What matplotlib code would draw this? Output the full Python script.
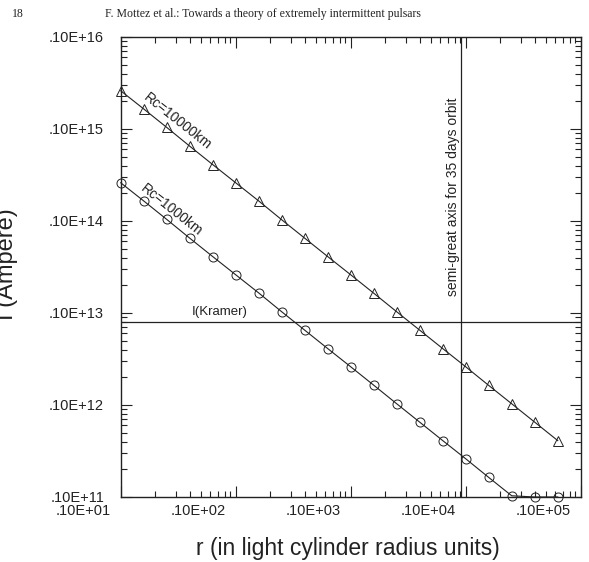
#!/usr/bin/env python
"""
plot.py

Current I versus distance r for two values of Rc, log-log, with the
I(Kramer) level and the 35-day orbit semi-great axis marked.
"""

import math

import matplotlib.pyplot as plt
import matplotlib.transforms as mtransforms
from matplotlib.ticker import FixedLocator, FuncFormatter, LogLocator, NullFormatter

# r (light cylinder radius units)
r = [1.0, 1.585, 2.512, 3.981, 6.31, 10.0, 15.85, 25.12, 39.81, 63.1,
     100.0, 158.5, 251.2, 398.1, 631.0, 1000.0, 1585.0, 2512.0, 3981.0, 6310.0]

# I (Ampere) for Rc = 10000 km (triangles)
i_rc10000 = [2.6e14, 1.65e14, 1.04e14, 6.5e13, 4.1e13, 2.6e13, 1.65e13, 1.03e13,
             6.5e12, 4.1e12, 2.6e12, 1.64e12, 1.03e12, 6.5e11, 4.1e11, 2.6e11,
             1.63e11, 1.03e11, 6.5e10, 4.1e10]

# I (Ampere) for Rc = 1000 km (circles), floored at the bottom of the plot
i_rc1000 = [2.6e13, 1.65e13, 1.04e13, 6.5e12, 4.1e12, 2.6e12, 1.65e12, 1.03e12,
            6.5e11, 4.1e11, 2.6e11, 1.64e11, 1.03e11, 6.5e10, 4.1e10, 2.6e10,
            1.63e10, 1.03e10, 1.0e10, 1.0e10]

i_kramer = 7.9e11
r_orbit35 = 905.0

x_decades = [1e0, 1e1, 1e2, 1e3, 1e4]
y_decades = [1e10, 1e11, 1e12, 1e13, 1e14, 1e15]

SANS = ["Liberation Sans", "DejaVu Sans"]
SERIF = ["Liberation Serif", "DejaVu Serif"]
INK = "#222222"


def fortran_label(v, pos=None):
    # 1.0 -> .10E+01, 1e15 -> .10E+16
    k = int(round(math.log10(v)))
    return f".10E+{k + 1:02d}"


def main() -> None:
    plt.rcParams["font.family"] = SANS
    fig = plt.figure(figsize=(5.89, 5.62), dpi=100)
    ax = fig.add_axes([0.205, 0.1157, 0.781, 0.8185])

    ax.set_xscale("log")
    ax.set_yscale("log")
    ax.set_xlim(x_decades[0], x_decades[-1])
    ax.set_ylim(y_decades[0], y_decades[-1])

    ax.plot(r, i_rc10000, color=INK, lw=0.8, marker="^", ms=7,
            mfc="none", mec=INK, mew=0.7, clip_on=False)
    ax.plot(r, i_rc1000, color=INK, lw=0.8, marker="o", ms=6.5,
            mfc="none", mec=INK, mew=0.7, clip_on=False)

    ax.axhline(i_kramer, color=INK, lw=0.9)
    ax.axvline(r_orbit35, color=INK, lw=0.9)

    ax.text(7.2, i_kramer * 1.12, "I(Kramer)", fontsize=9.5, color=INK,
            ha="center", va="bottom")
    ax.text(3.14, 1.22e14, "Rc=10000km", fontsize=10, color=INK,
            ha="center", va="center", rotation=-38.5, rotation_mode="anchor")
    ax.text(2.79, 1.32e13, "Rc=1000km", fontsize=10, color=INK,
            ha="center", va="center", rotation=-38.5, rotation_mode="anchor")
    ax.text(770, 1.85e13, "semi-great axis for 35 days orbit", fontsize=10,
            color=INK, ha="center", va="center", rotation=90)

    # ticks: inward on all four sides, Fortran-style labels
    ax.xaxis.set_major_locator(FixedLocator(x_decades))
    ax.yaxis.set_major_locator(FixedLocator(y_decades))
    ax.xaxis.set_minor_locator(LogLocator(base=10, subs=range(2, 10)))
    ax.yaxis.set_minor_locator(LogLocator(base=10, subs=range(2, 10)))
    ax.xaxis.set_major_formatter(FuncFormatter(fortran_label))
    ax.yaxis.set_major_formatter(FuncFormatter(fortran_label))
    ax.xaxis.set_minor_formatter(NullFormatter())
    ax.yaxis.set_minor_formatter(NullFormatter())
    ax.tick_params(which="both", direction="in", top=True, right=True,
                   colors=INK, width=0.8)
    ax.tick_params(which="major", length=8, labelsize=10.5)
    ax.tick_params(which="minor", length=4.5)
    ax.tick_params(axis="x", which="major", pad=5)
    ax.tick_params(axis="y", which="major", pad=12)
    for s in ax.spines.values():
        s.set_color(INK)
        s.set_linewidth(1.0)

    fig.canvas.draw()
    shift = mtransforms.ScaledTranslation(-7 / 72, 0, fig.dpi_scale_trans)
    for lab in ax.get_xticklabels():
        lab.set_ha("right")
        lab.set_transform(lab.get_transform() + shift)

    # axis titles and running page header
    fig.text(347.5 / 589, 1 - 548 / 562, "r (in light cylinder radius units)",
             fontsize=16.5, color=INK, ha="center", va="center")
    fig.text(7 / 589, 1 - 264 / 562, "I (Ampere)", fontsize=17, color=INK,
             ha="center", va="center", rotation=90)
    fig.text(12 / 589, 1 - 14 / 562, "18", family=SERIF, fontsize=8.5,
             color=INK, ha="left", va="center")
    fig.text(263 / 589, 1 - 14 / 562,
             "F. Mottez et al.: Towards a theory of extremely intermittent pulsars",
             family=SERIF, fontsize=8.5, color=INK, ha="center", va="center")

    fig.savefig("out.png", dpi=100)
    plt.close(fig)


if __name__ == "__main__":
    main()
